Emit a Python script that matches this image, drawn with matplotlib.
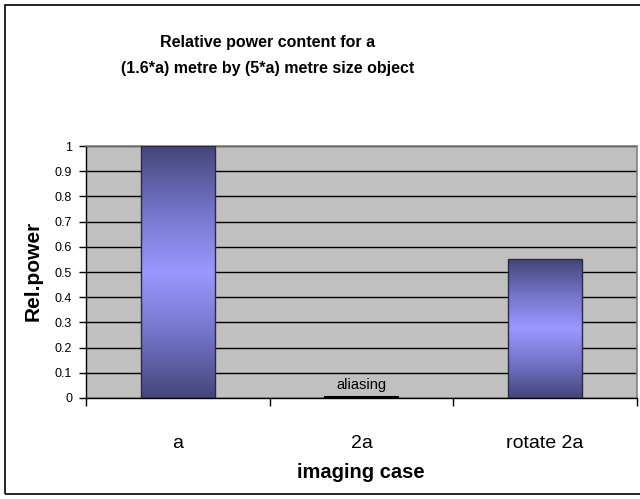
import matplotlib
matplotlib.use("Agg")
import matplotlib.pyplot as plt
import numpy as np
from matplotlib.patches import Rectangle
from matplotlib.colors import LinearSegmentedColormap

categories = ["a", "2a", "rotate 2a"]
values = [1.0, 0.003, 0.55]
bar_labels = ["", "aliasing", ""]
yticks = [0, 0.1, 0.2, 0.3, 0.4, 0.5, 0.6, 0.7, 0.8, 0.9, 1.0]
ytick_labels = ["0", "0.1", "0.2", "0.3", "0.4", "0.5", "0.6", "0.7", "0.8", "0.9", "1"]

plt.rcParams['font.family'] = ['Liberation Sans', 'DejaVu Sans']

W, H = 640, 499
fig = plt.figure(figsize=(6.4, 4.99), dpi=100)
fig.patch.set_facecolor("white")

# outer chart border
fig.patches.append(Rectangle((5 / W, 5 / H), 1.0, (494 - 5) / H, transform=fig.transFigure,
                             fill=False, edgecolor="black", linewidth=1.2, zorder=0))

left, right, top, bottom = 86, 637, 146, 398
ax = fig.add_axes([left / W, 1 - bottom / H, (right - left) / W, (bottom - top) / H])
ax.set_facecolor("#C0C0C0")

x = np.arange(len(categories))
ax.set_xlim(-0.5, len(categories) - 0.5)
ax.set_ylim(0, 1)
ax.set_yticks(yticks)
ax.set_yticklabels(ytick_labels, fontsize=9)
ax.yaxis.grid(True, color="black", linewidth=1.0)
ax.set_axisbelow(True)

ax.set_xticks(x)
ax.set_xticklabels(categories, fontsize=14)
ax.tick_params(axis="x", length=0, pad=27)
ax.set_xticks(np.arange(len(categories) + 1) - 0.5, minor=True)
ax.tick_params(axis="x", which="minor", length=6, width=1, color="black", direction="out")
ax.tick_params(axis="y", length=5, width=1, direction="out", pad=5)

for s in ["top", "right"]:
    ax.spines[s].set_color("#808080")
    ax.spines[s].set_linewidth(1.2)
for s in ["left", "bottom"]:
    ax.spines[s].set_color("black")
    ax.spines[s].set_linewidth(1.0)

cmap = LinearSegmentedColormap.from_list("g", ["#45457A", "#7373C8", "#9999FF", "#7373C8", "#45457A"])
grad = np.linspace(0, 1, 256).reshape(-1, 1)

bars = ax.bar(x, values, width=0.4, color="none", edgecolor="#2A2A44", linewidth=1.0, zorder=3)
for b, v in zip(bars, values):
    bx, bw = b.get_x(), b.get_width()
    im = ax.imshow(grad, cmap=cmap, aspect="auto", extent=[bx, bx + bw, 0, v],
                   origin="lower", zorder=2.5, interpolation="bilinear")
    im.set_clip_path(b)
    if v < 0.01:
        b.set_edgecolor("black")
        b.set_linewidth(1.5)

for xi, v, lab in zip(x, values, bar_labels):
    if lab:
        ax.annotate(lab, (xi, v), xytext=(0, 4), textcoords="offset points",
                    ha="center", va="bottom", fontsize=10.5)

ax.set_xlim(-0.5, len(categories) - 0.5)
ax.set_ylim(0, 1)

fig.text(268 / W, 1 - 42 / H, "Relative power content for a", ha="center", va="center",
         fontsize=11.5, fontweight="bold")
fig.text(268 / W, 1 - 68 / H, "(1.6*a) metre by (5*a) metre size object", ha="center", va="center",
         fontsize=11.5, fontweight="bold")
fig.text(361 / W, 1 - 473 / H, "imaging case", ha="center", va="center",
         fontsize=14.5, fontweight="bold")
fig.text(33 / W, 1 - 271 / H, "Rel.power", ha="center", va="center", rotation=90,
         fontsize=15, fontweight="bold")

fig.savefig("out.png", dpi=100)
